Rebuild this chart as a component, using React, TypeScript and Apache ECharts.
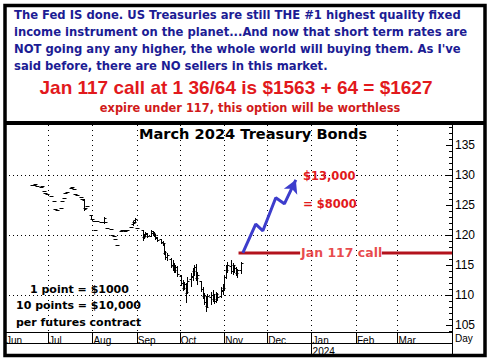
import React, { useEffect, useRef } from 'react';
import * as echarts from 'echarts';

// ---------- Text ----------
const topLines = [
  'The Fed IS done. US Treasuries are still THE #1 highest quality fixed',
  'income instrument on the planet...And now that short term rates are',
  "NOT going any any higher, the whole world will buying them. As I've",
  'said before, there are NO sellers in this market.',
];
const headline = 'Jan 117 call at 1 36/64 is $1563 + 64 = $1627';
const subline = 'expire under 117, this option will be worthless';
const chartTitle = 'March 2024 Treasury Bonds';
const notes = ['1 point = $1000', '10 points = $10,000', 'per futures contract'];
const targetLabels = ['$13,000', '= $8000'];
const callLabel = 'Jan 117 call';
const monthNames = ['Jan', 'Feb', 'Mar', 'Apr', 'May', 'Jun', 'Jul', 'Aug', 'Sep', 'Oct', 'Nov', 'Dec'];

// ---------- Axes ----------
const xStart = '2023-06-01';
const xEnd = '2024-04-08';
const monthLabelDates = ['2023-06-01', '2023-07-01', '2023-08-01', '2023-09-01', '2023-10-01', '2023-11-01', '2023-12-01', '2024-01-01', '2024-02-01', '2024-03-01'];
const monthTickDates = ['2023-07-01', '2023-08-01', '2023-09-01', '2023-10-01', '2023-11-01', '2023-12-01', '2024-01-01', '2024-02-01', '2024-03-01'];
const yearDates = ['2024-01-01'];
const yearLabel = '2024';
const yMin = 103.83;
const yMax = 138.33;
const yLabelValues = [105, 110, 115, 120, 125, 130, 135];
const yMinorValues = [104, 106, 107, 108, 109, 111, 112, 113, 114, 116, 117, 118, 119, 121, 122, 123, 124, 126, 127, 128, 129, 131, 132, 133, 134, 136, 137, 138];
const yGridValues = [110, 120, 130];

// ---------- Daily bars (March 2024 T-Bond futures) ----------
const dates = [
  '2023-06-20', '2023-06-21', '2023-06-22', '2023-06-23', '2023-06-26', '2023-06-27', '2023-06-28', '2023-06-29', '2023-06-30',
  '2023-07-03', '2023-07-05', '2023-07-06', '2023-07-07', '2023-07-10', '2023-07-11', '2023-07-12', '2023-07-13', '2023-07-14',
  '2023-07-17', '2023-07-18', '2023-07-19', '2023-07-20', '2023-07-21', '2023-07-24', '2023-07-25', '2023-07-26', '2023-07-27', '2023-07-28', '2023-07-31',
  '2023-08-01', '2023-08-02', '2023-08-03', '2023-08-04', '2023-08-07', '2023-08-08', '2023-08-09', '2023-08-10', '2023-08-11',
  '2023-08-14', '2023-08-15', '2023-08-16', '2023-08-17', '2023-08-18', '2023-08-21', '2023-08-22', '2023-08-23', '2023-08-24', '2023-08-25',
  '2023-08-28', '2023-08-29', '2023-08-30', '2023-08-31',
  '2023-09-01', '2023-09-05', '2023-09-06', '2023-09-07', '2023-09-08', '2023-09-11', '2023-09-12', '2023-09-13', '2023-09-14', '2023-09-15',
  '2023-09-18', '2023-09-19', '2023-09-20', '2023-09-21', '2023-09-22', '2023-09-25', '2023-09-26', '2023-09-27', '2023-09-28', '2023-09-29',
  '2023-10-02', '2023-10-03', '2023-10-04', '2023-10-05', '2023-10-06', '2023-10-09', '2023-10-10', '2023-10-11', '2023-10-12', '2023-10-13',
  '2023-10-16', '2023-10-17', '2023-10-18', '2023-10-19', '2023-10-20', '2023-10-23', '2023-10-24', '2023-10-25', '2023-10-26', '2023-10-27',
  '2023-10-30', '2023-10-31',
  '2023-11-01', '2023-11-02', '2023-11-03', '2023-11-06', '2023-11-07', '2023-11-08', '2023-11-09', '2023-11-10', '2023-11-13',
];
const opens = [
  128.3, 128.3, 128.5, 128.2, 128.0, 128.1, 127.4, 127.0, 126.8,
  126.5, 125.6, 124.4, 124.1, 124.5, 125.6, 126.2, 127.0, 127.1, 127.8, 128.0, 127.6, 126.8, 126.6, 126.4, 126.0, 125.8, 124.5, 124.9, 123.3,
  122.6, 122.4, 120.8, 122.3, 122.1, 122.2, 122.2, 122.2, 121.2, 121.0, 120.0, 119.8, 119.3, 118.3, 120.6, 120.8, 120.9, 120.6, 120.8, 121.3, 121.8, 122.2, 122.5,
  121.2, 120.8, 119.6, 119.9, 120.2, 119.9, 120.4, 120.3, 120.0, 119.5, 119.3, 118.8, 118.6, 117.0, 116.3, 116.0, 115.0, 114.8, 114.1, 114.6,
  113.2, 112.0, 111.2, 111.8, 110.4, 112.6, 113.0, 114.0, 114.7, 112.9, 112.3, 111.0, 109.8, 108.8, 108.2, 109.6, 110.0, 109.4, 109.0, 110.1, 109.8, 110.6,
  111.2, 113.0, 114.2, 114.8, 114.0, 115.0, 114.5, 113.6, 114.2,
];
const highs = [
  128.3, 128.3, 128.5, 128.2, 128.0, 128.1, 127.4, 127.0, 126.8,
  126.5, 125.6, 124.4, 124.1, 124.5, 125.6, 126.2, 127.0, 127.1, 127.8, 128.0, 127.6, 126.8, 126.6, 126.4, 126.0, 126.0, 124.5, 124.9, 123.3,
  122.6, 122.4, 120.8, 122.3, 122.1, 122.2, 123.0, 122.2, 121.2, 121.0, 120.0, 119.8, 119.3, 118.3, 120.6, 120.8, 120.9, 120.6, 120.8, 121.3, 122.3, 122.2, 122.8,
  121.2, 120.8, 120.1, 120.5, 120.4, 120.8, 120.6, 120.5, 120.2, 119.6, 119.4, 119.0, 118.6, 117.3, 117.0, 116.2, 115.8, 115.3, 115.0, 114.8,
  113.3, 112.5, 112.2, 112.0, 113.0, 113.6, 114.5, 115.0, 115.1, 113.8, 112.4, 111.3, 110.3, 109.8, 110.2, 110.5, 110.8, 110.2, 110.5, 110.4, 111.4, 111.8,
  113.3, 115.0, 115.5, 115.8, 115.4, 115.0, 114.6, 114.4, 115.5,
];
const lows = [
  128.3, 128.3, 128.5, 128.2, 128.0, 128.1, 127.4, 127.0, 126.8,
  126.5, 125.6, 124.4, 124.1, 124.5, 125.6, 126.2, 127.0, 127.1, 127.8, 128.0, 127.6, 126.8, 126.6, 126.4, 126.0, 124.2, 124.5, 124.9, 122.6,
  122.6, 122.4, 120.8, 122.3, 122.1, 122.2, 122.0, 122.2, 121.2, 121.0, 120.0, 119.8, 119.3, 118.3, 120.6, 120.8, 120.9, 120.6, 120.8, 121.3, 121.6, 122.2, 122.3,
  121.2, 119.2, 119.5, 119.8, 119.7, 119.8, 120.0, 119.9, 119.4, 119.0, 118.6, 118.3, 116.9, 116.0, 115.8, 114.7, 114.2, 113.8, 113.8, 113.2,
  111.7, 110.8, 111.0, 108.8, 110.3, 111.5, 112.5, 113.3, 112.5, 111.8, 110.6, 109.5, 108.5, 107.3, 108.0, 108.5, 109.0, 108.7, 108.9, 109.2, 109.6, 110.2,
  111.0, 112.8, 113.8, 113.7, 113.5, 113.8, 113.3, 113.0, 113.6,
];
const closes = [
  128.3, 128.3, 128.5, 128.2, 128.0, 128.1, 127.4, 127.0, 126.8,
  126.5, 125.6, 124.4, 124.1, 124.5, 125.6, 126.2, 127.0, 127.1, 127.8, 128.0, 127.6, 126.8, 126.6, 126.4, 126.0, 124.4, 124.5, 124.9, 122.7,
  122.6, 122.4, 120.8, 122.3, 122.1, 122.2, 122.9, 122.2, 121.2, 121.0, 120.0, 119.8, 119.3, 118.3, 120.6, 120.8, 120.9, 120.6, 120.8, 121.3, 122.0, 122.2, 122.6,
  121.2, 119.6, 119.8, 120.3, 119.9, 120.6, 120.3, 120.0, 119.6, 119.2, 118.8, 118.6, 117.2, 116.3, 116.6, 115.0, 114.6, 114.1, 114.6, 113.5,
  112.0, 111.2, 111.9, 110.5, 112.4, 113.2, 114.0, 114.6, 112.9, 113.4, 111.0, 109.8, 108.8, 108.0, 109.8, 110.0, 109.4, 109.0, 110.1, 109.6, 110.8, 111.2,
  113.0, 114.2, 115.0, 114.0, 115.0, 114.5, 113.6, 114.2, 115.3,
];

// ---------- Projection arrow & call strike ----------
const arrowDates = ['2023-11-14', '2023-11-23', '2023-11-28', '2023-12-07', '2023-12-13', '2023-12-21'];
const arrowPrices = [117, 121.8, 120.7, 126.2, 125.2, 129.2];
// strike line, broken where its label sits
const callDates = ['2023-11-11', '2023-12-24', '2023-12-25', '2024-02-19', '2024-04-08'];
const callValues: (number | string)[] = [117, 117, '-', 117, 117];
const callStrike = 117;
const callLabelDate = '2024-01-22';

const BLUE_TEXT = '#1c1c94';
const RED = '#e2191c';
const DARK_RED = '#b3121c';

const DAY_MS = 86400000;
const utcOf = (s: string) => {
  const [y, m, d] = s.split('-').map(Number);
  return Date.UTC(y, m - 1, d);
};
const ORIGIN = utcOf(xStart);
const dayOf = (s: string) => Math.round((utcOf(s) - ORIGIN) / DAY_MS);
const monthOfDay = (v: number) => monthNames[new Date(ORIGIN + v * DAY_MS).getUTCMonth()];

export default function App() {
  const ref = useRef<HTMLDivElement>(null);

  useEffect(() => {
    document.body.style.margin = '0';
    const chart = echarts.init(ref.current as HTMLDivElement, null, { renderer: 'svg' });

    const xMin = 0;
    const xMax = dayOf(xEnd);
    const bars = dates.map((d, i) => [dayOf(d), opens[i], highs[i], lows[i], closes[i]]);
    const arrowData = arrowDates.map((d, i) =>
      i === arrowDates.length - 1
        ? { value: [dayOf(d), arrowPrices[i]], symbol: 'arrow', symbolSize: [11, 13], symbolRotate: -24 }
        : { value: [dayOf(d), arrowPrices[i]], symbol: 'none' }
    );

    const yBase = { type: 'value', min: yMin, max: yMax, position: 'right' };

    const textEl = (text: string, x: number, y: number, font: string, fill: string, align = 'left') => ({
      type: 'text',
      x,
      y,
      z: 50,
      style: { text, font, fill, textAlign: align, textVerticalAlign: 'middle' },
    });

    const lineEl = (x1: number, y1: number, x2: number, y2: number, w: number) => ({
      type: 'line',
      z: 60,
      shape: { x1, y1, x2, y2 },
      style: { stroke: '#000', lineWidth: w },
    });

    const blueFont = 'bold 11.6px "DejaVu Sans"';

    const option: any = {
      animation: false,
      backgroundColor: '#fff',
      grid: { left: 5, right: 36, top: 125, bottom: 32, containLabel: false, outerBoundsMode: 'none' },
      xAxis: [
        {
          type: 'value',
          min: xMin,
          max: xMax,
          position: 'bottom',
          axisLine: { show: true, onZero: false, lineStyle: { color: '#000', width: 1 } },
          axisTick: { show: true, customValues: monthTickDates.map(dayOf), length: 11, lineStyle: { color: '#000', width: 1 } },
          axisLabel: {
            show: true,
            customValues: monthLabelDates.map(dayOf),
            formatter: (v: number) => monthOfDay(v),
            align: 'left',
            margin: 3,
            padding: [0, 0, 0, 1],
            fontSize: 10,
            fontFamily: 'Liberation Sans',
            color: '#000',
          },
          splitLine: { show: true, lineStyle: { color: '#000', width: 1, type: [1, 4] } },
        },
        {
          type: 'value',
          min: xMin,
          max: xMax,
          position: 'bottom',
          axisLine: { show: false, onZero: false },
          axisTick: { show: true, customValues: yearDates.map(dayOf), length: 25, lineStyle: { color: '#000', width: 1 } },
          axisLabel: {
            show: true,
            customValues: yearDates.map(dayOf),
            formatter: () => yearLabel,
            align: 'left',
            margin: 14,
            padding: [0, 0, 0, 1],
            fontSize: 10,
            fontFamily: 'Liberation Sans',
            color: '#000',
          },
          splitLine: { show: false },
        },
      ],
      yAxis: [
        {
          ...yBase,
          axisLine: { show: true, onZero: false, lineStyle: { color: '#000', width: 1 } },
          axisTick: { show: true, inside: true, customValues: yLabelValues, length: 6, lineStyle: { color: '#000' } },
          axisLabel: { show: true, customValues: yLabelValues, margin: 3, fontSize: 12, fontFamily: 'Liberation Sans', color: '#000' },
          splitLine: { show: false },
        },
        {
          ...yBase,
          axisLine: { show: false, onZero: false },
          axisTick: { show: true, inside: true, customValues: yMinorValues, length: 3, lineStyle: { color: '#000' } },
          axisLabel: { show: false },
          splitLine: { show: false },
        },
        {
          ...yBase,
          axisLine: { show: false, onZero: false },
          axisTick: { show: false, customValues: yGridValues },
          axisLabel: { show: false },
          splitLine: { show: true, lineStyle: { color: '#000', width: 1, type: [1, 3] } },
        },
      ],
      series: [
        {
          type: 'custom',
          name: 'bars',
          xAxisIndex: 0,
          yAxisIndex: 0,
          z: 3,
          encode: { x: 0, y: [1, 2, 3, 4] },
          data: bars,
          renderItem: (params: any, api: any) => {
            const t = api.value(0);
            const pO = api.coord([t, api.value(1)]);
            const pH = api.coord([t, api.value(2)]);
            const pL = api.coord([t, api.value(3)]);
            const pC = api.coord([t, api.value(4)]);
            const x = Math.round(pH[0]) + 0.5;
            const st = { stroke: '#000', lineWidth: 1 };
            const yo = Math.round(pO[1]) + 0.5;
            const yc = Math.round(pC[1]) + 0.5;
            return {
              type: 'group',
              children: [
                { type: 'line', shape: { x1: x, y1: Math.round(pH[1]), x2: x, y2: Math.round(pL[1]) + 1 }, style: st },
                { type: 'line', shape: { x1: x - 2, y1: yo, x2: x, y2: yo }, style: st },
                { type: 'line', shape: { x1: x, y1: yc, x2: x + 2, y2: yc }, style: st },
              ],
            };
          },
        },
        {
          type: 'line',
          name: 'call',
          xAxisIndex: 0,
          yAxisIndex: 0,
          z: 4,
          symbol: 'none',
          connectNulls: false,
          lineStyle: { color: DARK_RED, width: 3 },
          data: callDates.map((d, i) => [dayOf(d), callValues[i]]),
        },
        {
          type: 'line',
          name: 'projection',
          xAxisIndex: 0,
          yAxisIndex: 0,
          z: 5,
          symbol: 'none',
          showSymbol: true,
          itemStyle: { color: '#3d3dcc' },
          lineStyle: { color: '#3d3dcc', width: 3 },
          data: arrowData,
        },
        {
          type: 'scatter',
          name: 'callLabel',
          xAxisIndex: 0,
          yAxisIndex: 0,
          z: 6,
          symbolSize: 0,
          itemStyle: { color: 'rgba(0,0,0,0)' },
          label: {
            show: true,
            position: 'inside',
            formatter: callLabel,
            color: RED,
            fontWeight: 'bold',
            fontSize: 12.5,
            fontFamily: 'DejaVu Sans',
          },
          data: [[dayOf(callLabelDate), callStrike]],
        },
      ],
      graphic: [
        ...topLines.map((t, i) => textEl(t, 14, 15 + i * 17, blueFont, BLUE_TEXT)),
        textEl(headline, 236, 87, 'bold 19px "Liberation Sans"', RED, 'center'),
        textEl(subline, 250, 108, 'bold 11.4px "DejaVu Sans"', '#d11a1a', 'center'),
        textEl(chartTitle, 253, 133.5, 'bold 14.6px "DejaVu Sans"', '#000', 'center'),
        textEl(targetLabels[0], 303, 176, 'bold 11.5px "DejaVu Sans"', RED),
        textEl(targetLabels[1], 303, 204, 'bold 11.5px "DejaVu Sans"', RED),
        textEl(notes[0], 30, 289, 'bold 11px "DejaVu Sans"', '#000'),
        textEl(notes[1], 16, 305, 'bold 11px "DejaVu Sans"', '#000'),
        textEl(notes[2], 16, 322, 'bold 11px "DejaVu Sans"', '#000'),
        textEl('Day', 455, 338, '10px "Liberation Sans"', '#000'),
        lineEl(5, 343.5, 452, 343.5, 1),
        lineEl(452.5, 330, 452.5, 357, 1),
        lineEl(4, 123, 486, 123, 4),
        {
          type: 'rect',
          z: 100,
          shape: { x: 5, y: 5.5, width: 480, height: 350 },
          style: { fill: 'none', stroke: '#000', lineWidth: 3.5 },
        },
      ],
    };

    chart.setOption(option);
    return () => chart.dispose();
  }, []);

  return <div ref={ref} style={{ width: 488, height: 364, position: 'absolute', left: 0, top: 0 }} />;
}
